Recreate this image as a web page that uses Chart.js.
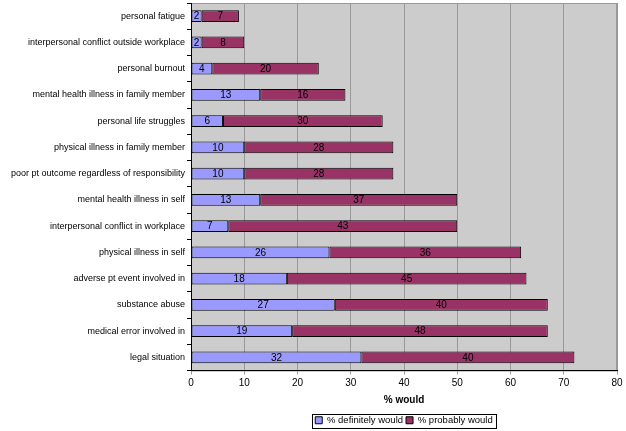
<!DOCTYPE html>
<html>
<head>
<meta charset="utf-8">
<script src="https://cdn.jsdelivr.net/npm/chart.js@4"></script>
<style>
  html, body { margin: 0; padding: 0; background: #fff; }
  #wrap { width: 626px; height: 431px; }
</style>
</head>
<body>
<div id="wrap"><canvas id="myChart" width="626" height="431"></canvas></div>
<script>
const reasons = [
  "personal fatigue",
  "interpersonal conflict outside workplace",
  "personal burnout",
  "mental health illness in family member",
  "personal life struggles",
  "physical illness in family member",
  "poor pt outcome regardless of responsibility",
  "mental health illness in self",
  "interpersonal conflict in workplace",
  "physical illness in self",
  "adverse pt event involved in",
  "substance abuse",
  "medical error involved in",
  "legal situation"
];
const definitely = [2, 2, 4, 13, 6, 10, 10, 13, 7, 26, 18, 27, 19, 32];
const probably = [7, 8, 20, 16, 30, 28, 28, 37, 43, 36, 45, 40, 48, 40];
const xTicks = [0, 10, 20, 30, 40, 50, 60, 70, 80];

const FONT = "'Liberation Sans', Arial, sans-serif";

// gray plot area + border round legend
const plotBg = {
  id: "plotBg",
  beforeDraw(chart) {
    const a = chart.chartArea;
    const ctx = chart.ctx;
    ctx.save();
    ctx.fillStyle = "#cccccc";
    ctx.fillRect(a.left, a.top, a.right - a.left, a.bottom - a.top);
    ctx.strokeStyle = "#999999";
    ctx.lineWidth = 1;
    ctx.strokeRect(a.left + 0.5, a.top + 0.5, a.right - a.left - 1, a.bottom - a.top);
    ctx.restore();
  },
  afterDraw(chart) {
    const lg = chart.legend;
    const ctx = chart.ctx;
    const boxes = lg.legendHitBoxes;
    if (!boxes.length) return;
    const first = boxes[0], last = boxes[boxes.length - 1];
    const x0 = first.left - 3, x1 = last.left + last.width + 3;
    const y0 = first.top - 2, y1 = first.top + first.height + 2;
    ctx.save();
    ctx.strokeStyle = "#000";
    ctx.lineWidth = 1;
    ctx.strokeRect(Math.round(x0) + 0.5, Math.round(y0) + 0.5, Math.round(x1 - x0), Math.round(y1 - y0));
    ctx.restore();
  }
};

// numbers inside the bars
const barLabels = {
  id: "barLabels",
  afterDatasetsDraw(chart) {
    const ctx = chart.ctx;
    ctx.save();
    ctx.font = "10px " + FONT;
    ctx.fillStyle = "#000";
    ctx.textAlign = "center";
    ctx.textBaseline = "middle";
    chart.data.datasets.forEach((ds, i) => {
      chart.getDatasetMeta(i).data.forEach((bar, j) => {
        const p = bar.getProps(["x", "y", "base"], true);
        ctx.fillText(ds.data[j], (p.x + p.base) / 2, p.y + 0.5);
      });
    });
    ctx.restore();
  }
};

new Chart(document.getElementById("myChart"), {
  type: "bar",
  data: {
    labels: reasons,
    datasets: [
      {
        label: "% definitely would",
        data: definitely,
        backgroundColor: "#9999ff",
        borderColor: "#000",
        borderWidth: 1,
        borderSkipped: false
      },
      {
        label: "% probably would",
        data: probably,
        backgroundColor: "#993366",
        borderColor: "#000",
        borderWidth: 1,
        borderSkipped: false
      }
    ]
  },
  options: {
    indexAxis: "y",
    responsive: false,
    animation: false,
    layout: { padding: { top: 3, right: 9, left: 0, bottom: -4 } },
    datasets: { bar: { categoryPercentage: 1, barPercentage: 0.44 } },
    scales: {
      x: {
        stacked: true,
        min: 0,
        max: 80,
        afterBuildTicks(axis) { axis.ticks = xTicks.map(v => ({ value: v })); },
        grid: { color: "#999999", tickLength: 4, drawTicks: true },
        border: { color: "#000" },
        ticks: { color: "#000", font: { family: FONT, size: 10 }, padding: 3 },
        title: { display: true, text: "% would", color: "#000", font: { family: FONT, size: 10, weight: "bold" }, padding: { top: 2, bottom: 6 } }
      },
      y: {
        stacked: true,
        afterFit(axis) {
          axis.width = 191;
          axis.paddingTop = 0;
          axis.paddingBottom = 0;
        },
        grid: { offset: true, drawOnChartArea: false, tickLength: 4, color: "#000" },
        border: { color: "#000" },
        ticks: { color: "#000", font: { family: FONT, size: 9 }, padding: 2, autoSkip: false }
      }
    },
    plugins: {
      legend: {
        position: "bottom",
        fullSize: false,
        labels: {
          color: "#000",
          font: { family: FONT, size: 9.5 },
          boxWidth: 7,
          boxHeight: 7,
          padding: 3,
          generateLabels(chart) {
            return chart.data.datasets.map((ds, i) => ({
              text: ds.label,
              fillStyle: ds.backgroundColor,
              strokeStyle: "#000",
              lineWidth: 1,
              datasetIndex: i
            }));
          }
        }
      },
      tooltip: { enabled: false }
    }
  },
  plugins: [plotBg, barLabels]
});
</script>
</body>
</html>
